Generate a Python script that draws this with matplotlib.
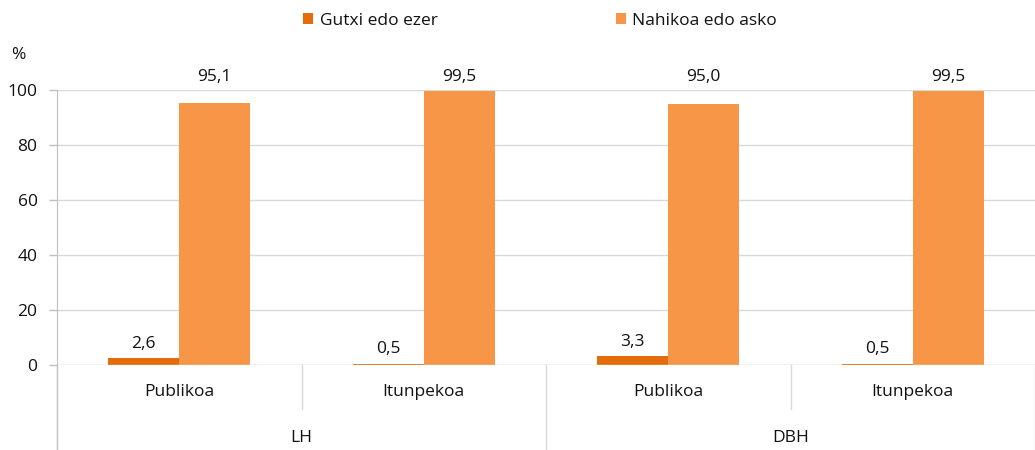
import matplotlib
matplotlib.use('Agg')
import matplotlib.pyplot as plt
import numpy as np

plt.rcParams['font.family'] = ['Open Sans', 'DejaVu Sans']

# ─── Data ───
subcats = ['Publikoa', 'Itunpekoa', 'Publikoa', 'Itunpekoa']
groups = ['LH', 'DBH']
series_names = ['Gutxi edo ezer', 'Nahikoa edo asko']
gutxi = [2.6, 0.5, 3.3, 0.5]
nahikoa = [95.1, 99.5, 95.0, 99.5]
yticks = [0, 20, 40, 60, 80, 100]

C_DARK = '#E46C0A'
C_LIGHT = '#F79646'
GRID = '#D9D9D9'
AXC = '#BFBFBF'
TXT = '#111111'
FS = 12.5

fig = plt.figure(figsize=(10.35, 4.5), dpi=100)
ax = fig.add_axes([57 / 1035, 85 / 450, 978 / 1035, 275 / 450])

x = np.arange(len(subcats))
w = 0.29
b1 = ax.bar(x - w / 2, gutxi, w, color=C_DARK, label=series_names[0], zorder=3)
b2 = ax.bar(x + w / 2, nahikoa, w, color=C_LIGHT, label=series_names[1], zorder=3)

fmt = lambda v: f'{v:.1f}'.replace('.', ',')
for xi, v in zip(x - w / 2, gutxi):
    ax.annotate(fmt(v), (xi, v), xytext=(0, 4.5), textcoords='offset points',
                ha='center', va='bottom', fontsize=FS, color=TXT)
top = max(nahikoa)
for xi, v in zip(x + w / 2, nahikoa):
    ax.annotate(fmt(v), (xi, top), xytext=(0, 4.5), textcoords='offset points',
                ha='center', va='bottom', fontsize=FS, color=TXT)

ax.set_xlim(-0.5, len(subcats) - 0.5)
ax.set_ylim(0, 100)
ax.set_yticks(yticks)
ax.set_yticklabels([str(t) for t in yticks], fontsize=FS, color=TXT)
ax.tick_params(axis='y', length=6, width=1, color=AXC, pad=8)
ax.set_xticks([])
ax.grid(axis='y', color=GRID, linewidth=1, zorder=0)
for s in ['top', 'right', 'bottom']:
    ax.spines[s].set_visible(False)
ax.spines['left'].set_color(AXC)
ax.axhline(0, color=GRID, linewidth=1, zorder=4)

# category labels under axis
trans = ax.get_xaxis_transform()
for xi, lbl in zip(x, subcats):
    ax.text(xi, -0.1, lbl, transform=trans, ha='center', va='center',
            fontsize=FS, color=TXT)
for gi, g in enumerate(groups):
    ax.text(gi * 2 + 0.5, -0.265, g, transform=trans, ha='center', va='center',
            fontsize=FS, color=TXT)

# separators
for xs in [0.5, 2.5]:
    ax.plot([xs, xs], [0, -0.16], transform=trans, color=GRID, lw=1, clip_on=False)
for xs in [-0.5, 1.5, 3.5]:
    ax.plot([xs, xs], [0, -0.31], transform=trans, color=GRID if xs != -0.5 else AXC,
            lw=1, clip_on=False)

fig.text(18 / 1035, 1 - 55 / 450, '%', fontsize=FS, color=TXT, ha='center', va='center')

leg = fig.legend(handles=[b1, b2], loc='center', bbox_to_anchor=(0.522, 1 - 21 / 450),
                 ncol=2, frameon=False, fontsize=FS, handlelength=0.58, handleheight=0.58,
                 handletextpad=0.35, columnspacing=10.3)
for t in leg.get_texts():
    t.set_color(TXT)

fig.savefig('out.png', dpi=100)
